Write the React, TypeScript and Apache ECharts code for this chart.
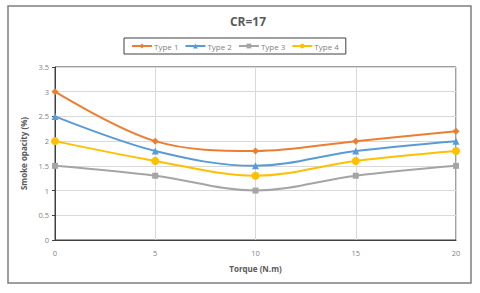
import React, { useEffect, useRef } from "react";
import * as echarts from "echarts";

const torque = [0, 5, 10, 15, 20];
const type1 = [3, 2, 1.8, 2, 2.2];
const type2 = [2.5, 1.8, 1.5, 1.8, 2.0];
const type3 = [1.5, 1.3, 1.0, 1.3, 1.5];
const type4 = [2.0, 1.6, 1.3, 1.6, 1.8];
const seriesNames = ["Type 1", "Type 2", "Type 3", "Type 4"];
const colors = ["#ED7D31", "#5B9BD5", "#A5A5A5", "#FFC000"];
const symbols = ["diamond", "triangle", "rect", "circle"];

export default function App() {
  const ref = useRef<HTMLDivElement>(null);
  useEffect(() => {
    if (!ref.current) return;
    const chart = echarts.init(ref.current, null, { renderer: "svg" });
    const data = [type1, type2, type3, type4];
    chart.setOption({
      animation: false,
      backgroundColor: "#ffffff",
      textStyle: { fontFamily: "Open Sans" },
      title: {
        text: "CR=17",
        left: 243,
        textAlign: "center",
        top: 10,
        textStyle: { fontSize: 12, fontWeight: "bold", color: "#595959", fontFamily: "Open Sans" },
      },
      legend: {
        data: seriesNames,
        left: 124,
        top: 38,
        padding: [4, 7, 4, 7],
        borderColor: "#404040",
        borderWidth: 1,
        itemGap: 6,
        itemWidth: 20,
        itemHeight: 6,
        textStyle: { fontSize: 8, color: "#7f7f7f", padding: [0, 0, 0, -3] },
      },
      graphic: [
        {
          type: "rect",
          shape: { x: 8, y: 6, width: 463, height: 277 },
          style: { fill: "none", stroke: "#7f7f7f", lineWidth: 1.5 },
          silent: true,
        },
      ],
      grid: {
        left: 55,
        right: 480 - 456,
        top: 67,
        bottom: 293 - 240,
        show: true,
        borderColor: "#404040",
        borderWidth: 1,
      },
      xAxis: {
        type: "value",
        min: 0,
        max: 20,
        interval: 5,
        name: "Torque (N.m)",
        nameLocation: "middle",
        nameGap: 24,
        nameTextStyle: { fontSize: 8, fontWeight: "bold", color: "#595959" },
        axisLine: { show: true, lineStyle: { color: "#404040", width: 1 } },
        axisTick: { show: false },
        axisLabel: { fontSize: 7.5, color: "#7f7f7f", margin: 9 },
        splitLine: { show: true, lineStyle: { color: "#d9d9d9", width: 1 } },
      },
      yAxis: {
        type: "value",
        min: 0,
        max: 3.5,
        interval: 0.5,
        name: "Smoke opacity (%)",
        nameLocation: "middle",
        nameGap: 25,
        nameRotate: 90,
        nameTextStyle: { fontSize: 8, fontWeight: "bold", color: "#595959" },
        axisLine: { show: true, lineStyle: { color: "#404040", width: 1 } },
        axisTick: { show: true, length: 3, inside: false, lineStyle: { color: "#404040" } },
        axisLabel: { fontSize: 7.5, color: "#7f7f7f", margin: 6 },
        splitLine: { show: true, lineStyle: { color: "#d9d9d9", width: 1 } },
      },
      series: data.map((d, i) => ({
        name: seriesNames[i],
        type: "line",
        smooth: 0.35,
        data: torque.map((t, j) => [t, d[j]]),
        symbol: symbols[i],
        symbolSize: i === 3 ? 8 : i === 2 ? 6 : 7,
        color: colors[i],
        lineStyle: { width: 2, color: colors[i] },
        itemStyle: { color: colors[i] },
      })),
    });
    return () => chart.dispose();
  }, []);
  return <div ref={ref} style={{ width: 480, height: 293, position: "absolute", left: 0, top: 0 }} />;
}
